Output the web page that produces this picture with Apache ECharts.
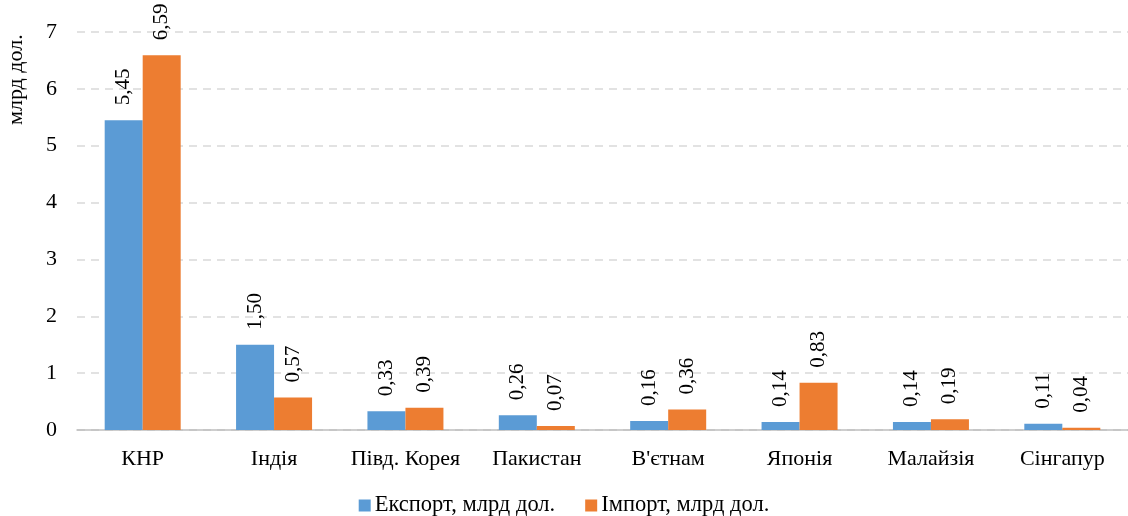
<!DOCTYPE html>
<html>
<head>
<meta charset="utf-8">
<script src="https://cdn.jsdelivr.net/npm/echarts@6/dist/echarts.min.js"></script>
<style>
  html, body { margin: 0; padding: 0; background: #fff; }
  #chart { width: 1128px; height: 516px; }
</style>
</head>
<body>
<div id="chart"></div>
<script>
// дані з рисунку
var categories = ['КНР', 'Індія', 'Півд. Корея', 'Пакистан', "В'єтнам", 'Японія', 'Малайзія', 'Сінгапур'];
var exportVals = [5.45, 1.50, 0.33, 0.26, 0.16, 0.14, 0.14, 0.11];
var importVals = [6.59, 0.57, 0.39, 0.07, 0.36, 0.83, 0.19, 0.04];
var seriesNames = ['Експорт, млрд дол.', 'Імпорт, млрд дол.'];
var yTicks = [0, 1, 2, 3, 4, 5, 6, 7];

var font = 'Liberation Serif, Times New Roman, serif';

var el = document.getElementById('chart');
var myChart = echarts.init(el);

var labelOpt = {
    show: true,
    position: 'top',
    rotate: 90,
    align: 'left',
    verticalAlign: 'middle',
    distance: 15,
    fontFamily: font,
    fontSize: 21,
    color: '#000',
    formatter: function (p) { return p.value.toFixed(2).replace('.', ','); }
};

var option = {
    animation: false,
    textStyle: { fontFamily: font },
    grid: { left: 77, right: -3, top: 32, bottom: 86 },
    legend: {
        bottom: -6,
        left: 'center',
        itemWidth: 12,
        itemHeight: 12,
        itemGap: 30,
        icon: 'rect',
        textStyle: { fontFamily: font, fontSize: 22.5, color: '#000', padding: [0, 0, 0, -1] },
        data: seriesNames
    },
    graphic: [{
        type: 'text',
        x: 5,
        y: 125,
        rotation: Math.PI / 2,
        style: { text: 'млрд дол.', fontFamily: font, fontSize: 22, fill: '#000' }
    }],
    xAxis: {
        type: 'category',
        data: categories,
        axisTick: { show: false },
        axisLine: { lineStyle: { color: '#bfbfbf', width: 1.5 } },
        axisLabel: { interval: 0, fontFamily: font, fontSize: 22, color: '#000', margin: 18 }
    },
    yAxis: {
        type: 'value',
        min: yTicks[0],
        max: yTicks[yTicks.length - 1],
        interval: 1,
        axisLine: { show: false },
        axisTick: { show: false },
        axisLabel: { fontFamily: font, fontSize: 22, color: '#000', margin: 20 },
        splitLine: { lineStyle: { color: '#d9d9d9', type: [8, 6], width: 1.5 } }
    },
    series: [
        {
            name: seriesNames[0],
            type: 'bar',
            data: exportVals,
            barWidth: 38,
            barGap: '0%',
            itemStyle: { color: '#5b9bd5' },
            label: labelOpt
        },
        {
            name: seriesNames[1],
            type: 'bar',
            data: importVals,
            barWidth: 38,
            itemStyle: { color: '#ed7d31' },
            label: labelOpt
        }
    ]
};
myChart.setOption(option);
</script>
</body>
</html>
